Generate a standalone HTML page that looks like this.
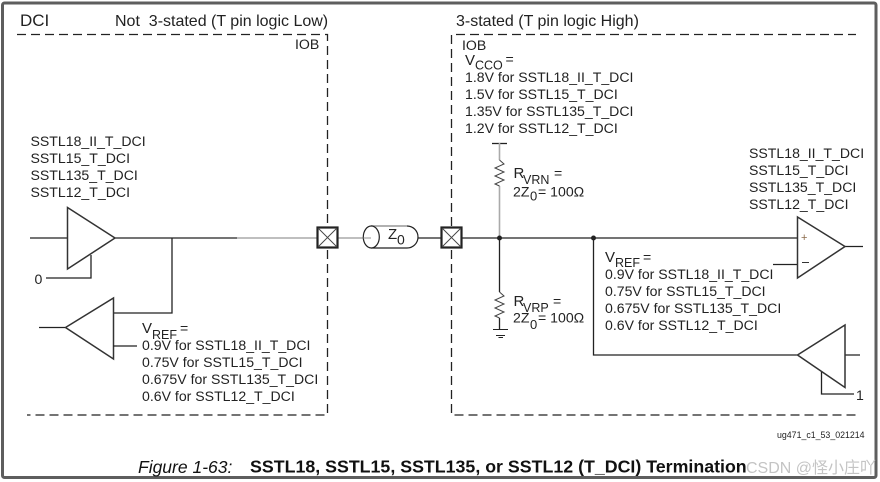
<!DOCTYPE html>
<html><head><meta charset="utf-8"><style>
html,body{margin:0;padding:0;background:#fff;width:880px;height:482px;overflow:hidden}
svg{display:block}
text{font-family:"Liberation Sans","Noto Sans CJK SC",sans-serif;font-size:14.1px;fill:#222}
.h{font-size:16px}
.v{font-size:15px}
.b{font-size:12.5px}
.d{fill:none;stroke:#222;stroke-width:1.3;stroke-dasharray:9 5}
.l{fill:none;stroke:#222;stroke-width:1.3}
.g{fill:none;stroke:#aaa;stroke-width:1.6}
.t{fill:#fff;stroke:#333;stroke-width:1.5}
</style></head><body>
<svg width="880" height="482" viewBox="0 0 880 482" xmlns="http://www.w3.org/2000/svg">
<rect x="0" y="0" width="880" height="482" fill="#fff"/>
<rect x="2.500" y="3" width="873.500" height="474.500" rx="2" fill="none" stroke="#5e5e5e" stroke-width="3"/>

<text x="20" y="26" style="font-size:17px">DCI</text>
<text x="115" y="26" class="h" xml:space="preserve">Not  3-stated (T pin logic Low)</text>
<text x="456" y="26" class="h">3-stated (T pin logic High)</text>

<path class="d" d="M17 34.500H327.500V226"/>
<path class="d" d="M327.500 250V415H27"/>
<path class="d" d="M451.500 226V34.500H856"/>
<path class="d" d="M451.500 250V415H856"/>

<text x="295" y="49">IOB</text>
<text x="462" y="50">IOB</text>

<text x="30.500" y="146">SSTL18_II_T_DCI</text>
<text x="30.500" y="163">SSTL15_T_DCI</text>
<text x="30.500" y="180">SSTL135_T_DCI</text>
<text x="30.500" y="197">SSTL12_T_DCI</text>

<path class="l" d="M30 238H68"/>
<path class="l" d="M115 238H237"/>
<path class="g" d="M237 238H317"/>
<path class="l" d="M172 238V313H113"/>
<path class="l" d="M91 255V278H46"/>
<polygon class="t" points="67.500,207.500 115,238 67.500,269"/>
<text x="34.500" y="284">0</text>

<polygon class="t" points="65.500,327.500 113.500,298 113.500,359"/>
<path class="l" d="M39 327.500H65M113 346H137"/>

<text x="142" y="333" class="v">V</text><text x="152" y="339" class="b">REF</text><text x="180" y="333">=</text>
<text x="142" y="350">0.9V for SSTL18_II_T_DCI</text>
<text x="142" y="367">0.75V for SSTL15_T_DCI</text>
<text x="142" y="384">0.675V for SSTL135_T_DCI</text>
<text x="142" y="401">0.6V for SSTL12_T_DCI</text>

<path class="g" d="M337 238H366"/>
<path class="l" d="M418 238H441M462 238H797"/>
<g>
<rect x="317.500" y="227.500" width="20" height="20" fill="#fff" stroke="#222" stroke-width="2.200"/>
<path d="M318 228L337 247M337 228L318 247" stroke="#444" stroke-width="0.900"/>
<rect x="441.500" y="227.500" width="20" height="20" fill="#fff" stroke="#222" stroke-width="2.200"/>
<path d="M442 228L461 247M461 228L442 247" stroke="#444" stroke-width="0.900"/>
</g>
<path d="M371 226H407A11 11 0 0 1 407 248H371" fill="#fff" stroke="#222" stroke-width="1.200"/>
<path d="M371 226H407" stroke="#aaa" stroke-width="1.400"/>
<ellipse cx="371.300" cy="237" rx="8" ry="11" fill="#fff" stroke="#222" stroke-width="1.200"/>
<path d="M363.500 238H371" stroke="#aaa" stroke-width="1.300"/>
<text x="388" y="239" style="font-size:15px">Z</text><text x="397" y="244.500" style="font-size:14px">0</text>

<text x="465" y="65" class="v">V</text><text x="475" y="69.500" class="b">CCO</text><text x="505.500" y="64">=</text>
<text x="465" y="82">1.8V for SSTL18_II_T_DCI</text>
<text x="465" y="99">1.5V for SSTL15_T_DCI</text>
<text x="465" y="116">1.35V for SSTL135_T_DCI</text>
<text x="465" y="133">1.2V for SSTL12_T_DCI</text>

<path class="l" d="M492 143.500H507"/>
<path class="g" d="M499.500 143V160M499.500 186V238"/>
<path d="M499.500 160L504 164L495 168L504 172L495 176L504 180L495 184L499.500 186" fill="none" stroke="#444" stroke-width="1"/>
<text x="513.500" y="178" class="v">R</text><text x="523" y="184" class="b">VRN</text><text x="554" y="178">=</text>
<text x="513" y="196.500">2Z</text><text x="530" y="200.500" style="font-size:13px">0</text><text x="538" y="196.500">= 100Ω</text>

<path class="l" d="M499.500 238V292M499.500 318V329"/>
<path d="M499.500 292L504 296L495 300L504 304L495 308L504 312L495 316L499.500 318" fill="none" stroke="#444" stroke-width="1"/>
<path class="l" d="M493 329.500H508M496 335.500H505M498.500 337.500H503" style="stroke-width:1"/>
<text x="513.500" y="306" class="v">R</text><text x="523" y="312" class="b">VRP</text><text x="553" y="306">=</text>
<text x="513" y="322.500">2Z</text><text x="530" y="329" style="font-size:13px">0</text><text x="538" y="322.500">= 100Ω</text>

<circle cx="499.500" cy="238" r="2.500" fill="#222"/>
<circle cx="593.500" cy="238" r="2.500" fill="#222"/>
<path class="l" d="M593.500 238V355H797"/>

<text x="749" y="158">SSTL18_II_T_DCI</text>
<text x="749" y="175">SSTL15_T_DCI</text>
<text x="749" y="192">SSTL135_T_DCI</text>
<text x="749" y="209">SSTL12_T_DCI</text>

<path class="l" d="M773 264.500H797M845 246.500H863"/>
<polygon class="t" points="797.500,217 845,246.500 797.500,278"/>
<path d="M802 262.500H809" stroke="#333" stroke-width="1"/>
<text x="801" y="241" style="font-size:11px;fill:#8a6a4a">+</text>

<text x="605" y="262" class="v">V</text><text x="615" y="267" class="b">REF</text><text x="643" y="262">=</text>
<text x="605" y="279">0.9V for SSTL18_II_T_DCI</text>
<text x="605" y="296">0.75V for SSTL15_T_DCI</text>
<text x="605" y="313">0.675V for SSTL135_T_DCI</text>
<text x="605" y="330">0.6V for SSTL12_T_DCI</text>

<path class="l" d="M845 355H860M821.500 372V394H854"/>
<polygon class="t" points="797.500,355 845,325 845,387.500"/>
<text x="856" y="400">1</text>

<text x="777" y="438" style="font-size:8.800px">ug471_c1_53_021214</text>

<text x="138" y="473" style="font-size:17.500px;font-style:italic;fill:#111">Figure 1-63:</text>
<text x="250" y="472.500" style="font-size:17.800px;font-weight:bold;fill:#111">SSTL18, SSTL15, SSTL135, or SSTL12 (T_DCI) Termination</text>
<text x="746" y="473" style="font-size:16px;fill:#c4c4c4">CSDN @怪小庄吖</text>
</svg>
</body></html>
